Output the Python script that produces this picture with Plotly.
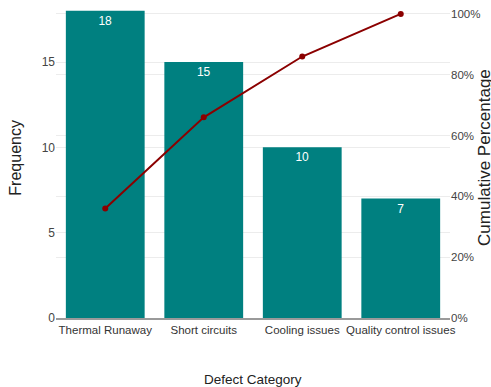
import plotly.graph_objects as go

# Defect counts, sorted by frequency (Pareto order)
categories = ["Thermal Runaway", "Short circuits", "Cooling issues", "Quality control issues"]
frequency = [18, 15, 10, 7]

# Running share of all defects
total = sum(frequency)
cumulative_pct = []
running = 0
for f in frequency:
    running += f
    cumulative_pct.append(running / total)

left_ticks = [0, 5, 10, 15]
right_ticks = [0, 0.2, 0.4, 0.6, 0.8, 1.0]
right_tick_text = ["0%", "20%", "40%", "60%", "80%", "100%"]

font_family = "Liberation Sans, Arial, sans-serif"
teal = "#008080"
dark_red = "#8B0000"
grid = "#ececec"

fig = go.Figure()

fig.add_trace(go.Bar(
    x=categories,
    y=frequency,
    marker=dict(color=teal, line=dict(width=0)),
    width=0.8,
    text=[str(v) for v in frequency],
    textposition="inside",
    insidetextanchor="end",
    textfont=dict(color="white", size=12, family=font_family),
    showlegend=False,
    yaxis="y",
))

fig.add_trace(go.Scatter(
    x=categories,
    y=cumulative_pct,
    mode="lines+markers",
    line=dict(color=dark_red, width=2),
    marker=dict(color=dark_red, size=6),
    showlegend=False,
    yaxis="y2",
))

fig.update_layout(
    width=491,
    height=387,
    margin=dict(l=56, r=41, t=8, b=69),
    paper_bgcolor="white",
    plot_bgcolor="white",
    font=dict(family=font_family, size=12, color="#444444"),
    bargap=0.2,
    xaxis=dict(
        showgrid=False,
        showline=True,
        linecolor="#9a9a9a",
        linewidth=1.5,
        ticks="",
        tickfont=dict(size=11.5, color="#333333"),
        range=[-0.5, 3.5],
    ),
    yaxis=dict(
        range=[0, 18.05],
        tickvals=left_ticks,
        showgrid=True,
        gridcolor=grid,
        gridwidth=1,
        zeroline=False,
        ticks="",
        tickfont=dict(size=12, color="#444444"),
    ),
    yaxis2=dict(
        overlaying="y",
        side="right",
        range=[0, 1.013],
        tickvals=right_ticks,
        ticktext=right_tick_text,
        showgrid=True,
        gridcolor=grid,
        gridwidth=1,
        zeroline=False,
        ticks="",
        tickfont=dict(size=11.5, color="#444444"),
    ),
    annotations=[
        dict(text="Defect Category", xref="paper", yref="paper", x=0.5, y=-0.2,
             xanchor="center", yanchor="middle", showarrow=False,
             font=dict(size=13.5, color="#222222")),
        dict(text="Frequency", xref="paper", yref="paper", x=-0.102, y=0.52,
             xanchor="center", yanchor="middle", textangle=-90, showarrow=False,
             font=dict(size=16, color="#222222")),
        dict(text="Cumulative Percentage", xref="paper", yref="paper", x=1.089, y=0.52,
             xanchor="center", yanchor="middle", textangle=-90, showarrow=False,
             font=dict(size=17, color="#222222")),
    ],
)

fig.write_html("out.html")
